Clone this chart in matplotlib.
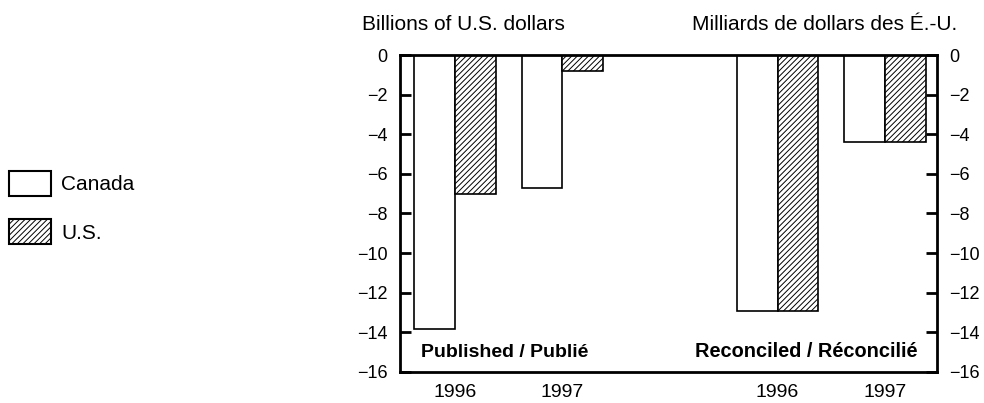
import numpy as np
import matplotlib
matplotlib.use('Agg')
import matplotlib.pyplot as plt
from matplotlib.patches import Patch

plt.rcParams['font.family'] = ['Liberation Sans', 'DejaVu Sans']
plt.rcParams['hatch.linewidth'] = 0.7

# data
years = ['1996', '1997', '1996', '1997']
positions = [0, 1, 3, 4]  # gap between published and reconciled groups
canada = [-13.85, -6.7, -12.9, -4.4]
us = [-7.0, -0.8, -12.9, -4.4]
group_labels = ['Published / Publié', 'Reconciled / Réconcilié']
yticks = [0, -2, -4, -6, -8, -10, -12, -14, -16]

fig = plt.figure(figsize=(9.84, 4.03), dpi=100)
ax = fig.add_axes([0.4065, 0.077, 0.5455, 0.7865])

x = np.array(positions)
w = 0.38
ax.bar(x - w / 2, canada, w, color='white', edgecolor='black', linewidth=1.2, zorder=2)
ax.bar(x + w / 2, us, w, color='white', edgecolor='black', linewidth=1.2, hatch='//////', zorder=2)

ax.set_xlim(-0.51, 4.48)
ax.set_ylim(-16, 0)
ax.set_yticks(yticks)
ax.set_yticklabels([str(t).replace('-', '\u2212') for t in yticks])
ax.set_xticks(x)
ax.set_xticklabels(years)
ax.tick_params(axis='x', length=0, pad=9, labelsize=14)
ax.tick_params(axis='y', direction='in', length=8, width=2, labelsize=13,
               right=True, labelright=True, pad=9)
for s in ax.spines.values():
    s.set_linewidth(2)
    s.set_zorder(3)

ax.text(0.465, -15.24, group_labels[0], ha='center', va='baseline', fontsize=14, fontweight='bold')
ax.text(3.27, -15.24, group_labels[1], ha='center', va='baseline', fontsize=14.4, fontweight='bold')

fig.text(362 / 984, 1 - 30 / 403, 'Billions of U.S. dollars', ha='left', va='baseline', fontsize=15)
fig.text(692 / 984, 1 - 30 / 403, 'Milliards de dollars des É.-U.', ha='left', va='baseline', fontsize=15)

handles = [Patch(facecolor='white', edgecolor='black', linewidth=1.5),
           Patch(facecolor='white', edgecolor='black', linewidth=1.5, hatch='//////')]
fig.legend(handles, ['Canada', 'U.S.'], loc='upper left', bbox_to_anchor=(9 / 984, 1 - 171 / 403),
           frameon=False, fontsize=15, handlelength=2.0, handleheight=1.48,
           labelspacing=1.1, handletextpad=0.5, borderpad=0, borderaxespad=0)

fig.savefig('out.png', dpi=100)
